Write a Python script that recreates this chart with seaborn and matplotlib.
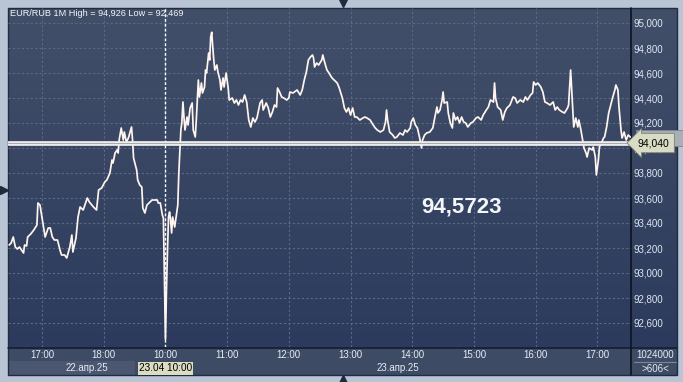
import matplotlib
matplotlib.use("Agg")
import matplotlib.pyplot as plt
import seaborn as sns
import numpy as np
from matplotlib.patches import Rectangle
from matplotlib.lines import Line2D
from matplotlib.colors import LinearSegmentedColormap

# ---------------- data (minutes on the trading timeline, 0 = 17:00 on 22.04) -------------
minutes_d1 = [-32, -30, -28, -26, -24, -22, -20, -18, -17, -15,
              -14, -11, -8, -5, -4, -2, 0, 3, 6, 8,
              10, 12, 15, 18, 19, 22, 24, 27, 29, 30,
              33, 35, 37, 40, 44, 46, 50, 53, 55, 58,
              61, 63, 66, 68, 69, 71, 73, 74, 75, 77,
              79, 80, 82, 84,
              87, 88, 89, 92, 93, 95, 97, 98, 100, 102,
              105, 107, 110, 112, 113, 115, 117, 118]
prices_d1 = [93.224, 93.240, 93.288, 93.208, 93.192, 93.208, 93.184, 93.160, 93.224, 93.216,
             93.288, 93.312, 93.344, 93.384, 93.560, 93.544, 93.440, 93.288, 93.360, 93.360,
             93.288, 93.264, 93.264, 93.168, 93.144, 93.144, 93.120, 93.208, 93.304, 93.168,
             93.280, 93.448, 93.528, 93.504, 93.600, 93.568, 93.528, 93.504, 93.664, 93.680,
             93.728, 93.744, 93.800, 93.904, 93.880, 93.960, 93.984, 93.960, 94.064, 94.160,
             94.064, 94.128, 94.048, 94.080,
             94.168, 94.064, 93.920, 93.824, 93.744, 93.704, 93.688, 93.520, 93.480, 93.544,
             93.568, 93.584, 93.584, 93.584, 93.560, 93.560, 93.464, 93.440]

minutes_d2 = [120, 121, 122, 123, 124, 125, 126, 127, 129, 131, 132, 133, 135,
              136, 137, 138, 139, 141, 142, 144, 146, 147, 149, 150, 151, 152, 153, 155, 156, 158,
              159, 160, 162, 163, 164, 165, 166, 167, 168, 170, 171, 173, 174, 176, 177, 179, 181,
              182, 185, 187, 189, 191, 193, 195, 197, 199, 201, 203, 205, 207, 209, 212, 214, 215,
              218, 220, 222, 224, 226, 228, 229, 231, 233, 235, 238, 240,
              241, 244, 248, 251, 253, 255, 257, 259, 261, 263, 264, 265, 267, 269, 272, 273, 275,
              277, 279, 282, 284, 287, 289, 292, 294, 296, 298, 300, 302, 304, 306, 309, 312, 314,
              316, 319, 322, 324, 326, 329, 332, 334, 335, 336, 338, 341, 343, 345, 348, 351, 353,
              355, 358,
              359, 361, 363, 365, 367, 369, 370, 372, 374, 377, 380, 382, 384, 385, 387, 389, 390,
              391, 394, 395, 397, 399, 400, 402, 404, 406, 408, 410, 412, 414, 417, 419, 422, 424,
              427, 429, 432, 434, 436, 439, 440, 441, 443, 446, 448, 450, 452, 455, 458, 460, 462,
              465,
              468, 470, 472, 475, 477, 478, 480, 482, 485, 487, 489, 491, 494, 497, 499, 501, 503,
              506, 508, 511, 512, 514, 516, 517, 519, 521, 522, 524, 526, 527, 529, 530, 532, 535,
              536, 538, 539, 541, 542, 544, 546, 547, 549, 551, 553, 555, 557, 558, 560, 561, 563,
              564, 566, 568, 570, 572]
prices_d2 = [92.469, 92.864, 93.184, 93.448, 93.488, 93.424, 93.320, 93.448, 93.368, 93.488, 93.544, 93.800, 94.144,
             94.208, 94.368, 94.248, 94.144, 94.248, 94.184, 94.320, 94.360, 94.144, 94.088, 94.224, 94.384, 94.544, 94.408, 94.520, 94.440, 94.488,
             94.624, 94.600, 94.760, 94.704, 94.888, 94.926, 94.808, 94.704, 94.624, 94.664, 94.608, 94.544, 94.464, 94.560, 94.488, 94.600, 94.480,
             94.384, 94.400, 94.360, 94.384, 94.344, 94.384, 94.368, 94.424, 94.368, 94.224, 94.168, 94.240, 94.208, 94.240, 94.360, 94.384, 94.304,
             94.360, 94.320, 94.248, 94.288, 94.344, 94.328, 94.480, 94.448, 94.408, 94.400, 94.384, 94.400,
             94.448, 94.440, 94.464, 94.424, 94.464, 94.544, 94.608, 94.704, 94.728, 94.744, 94.720, 94.648, 94.680, 94.664, 94.704, 94.744, 94.680,
             94.624, 94.600, 94.560, 94.544, 94.520, 94.480, 94.400, 94.320, 94.288, 94.320, 94.264, 94.320, 94.248, 94.248, 94.224, 94.240, 94.248,
             94.240, 94.224, 94.184, 94.160, 94.144, 94.128, 94.144, 94.208, 94.304, 94.224, 94.128, 94.104, 94.080, 94.088, 94.120, 94.104, 94.144,
             94.128, 94.160,
             94.208, 94.240, 94.184, 94.160, 94.088, 94.000, 94.064, 94.104, 94.120, 94.128, 94.160, 94.248, 94.328, 94.280, 94.304, 94.384, 94.448,
             94.360, 94.368, 94.280, 94.200, 94.160, 94.280, 94.224, 94.248, 94.200, 94.248, 94.208, 94.200, 94.168, 94.200, 94.208, 94.240, 94.248,
             94.224, 94.264, 94.304, 94.328, 94.384, 94.368, 94.520, 94.400, 94.328, 94.304, 94.224, 94.288, 94.320, 94.344, 94.408, 94.400, 94.360,
             94.384,
             94.368, 94.408, 94.384, 94.424, 94.440, 94.528, 94.504, 94.520, 94.488, 94.448, 94.368, 94.360, 94.344, 94.368, 94.304, 94.328, 94.304,
             94.288, 94.280, 94.320, 94.344, 94.624, 94.328, 94.168, 94.240, 94.168, 94.224, 94.144, 94.048, 94.000, 93.960, 93.928, 94.000, 93.984,
             94.008, 93.928, 93.784, 93.904, 94.008, 94.040, 94.080, 94.088, 94.168, 94.280, 94.344, 94.408, 94.464, 94.504, 94.464, 94.328, 94.144,
             94.080, 94.128, 94.064, 94.104, 94.088]

hour_ticks = [0, 60, 120, 180, 240, 300, 360, 420, 480, 540]
hour_labels = ["17:00", "18:00", "10:00", "11:00", "12:00", "13:00", "14:00", "15:00", "16:00", "17:00"]
day_labels = ["22.апр.25", "23.апр.25"]
session_open = 120          # 10:00 on 23.04 (cursor position)
cursor_label = "23.04 10:00"
price_ticks = [92.6, 92.8, 93.0, 93.2, 93.4, 93.6, 93.8, 94.0, 94.2, 94.4, 94.6, 94.8, 95.0]
last_price = 94.040
cursor_value = "94,5723"
high_value = 94.926
low_value = 92.469
volume_text = "1024000"
count_text = ">606<"
symbol = "EUR/RUB 1M"

# ---------------- styling ----------------
sns.set_style("dark")
plt.rcParams["font.family"] = ["Liberation Sans", "DejaVu Sans"]

W, H = 683, 382
def fx(px):
    return px / W
def fy(py):
    return 1 - py / H

def comma(v, nd=3):
    return f"{v:.{nd}f}".replace(".", ",")

fig = plt.figure(figsize=(6.83, 3.82), dpi=100)
fig.patch.set_facecolor("#b9c5d5")

# gradient panel background
bg = fig.add_axes([fx(8), fy(347), (677 - 8) / W, (347 - 8) / H], zorder=0)
cmap = LinearSegmentedColormap.from_list("bgc", ["#424f69", "#2c3b5d"])
bg.imshow(np.linspace(0, 1, 256).reshape(-1, 1), cmap=cmap, aspect="auto", extent=(0, 1, 0, 1))
bg.axis("off")

# bottom strips
fig.add_artist(Rectangle((fx(8), fy(375)), (677 - 8) / W, (375 - 347) / H,
                         transform=fig.transFigure, fc="#3e4b65", ec="none", zorder=0.5))
fig.add_artist(Rectangle((fx(8), fy(375)), (135 - 8) / W, (375 - 361) / H,
                         transform=fig.transFigure, fc="#4b5771", ec="none", zorder=0.6))
fig.add_artist(Rectangle((fx(8), fy(375)), (677 - 8) / W, (375 - 8) / H,
                         transform=fig.transFigure, fill=False, ec="#222c40", lw=1, zorder=0.7))
fig.add_artist(Line2D([fx(8), fx(677)], [fy(347.5)] * 2, transform=fig.transFigure,
                      color="#10182a", lw=1.1, zorder=0.8))
fig.add_artist(Line2D([fx(631), fx(631)], [fy(8), fy(375)], transform=fig.transFigure,
                      color="#0c1320", lw=1.2, zorder=0.8))
fig.add_artist(Line2D([fx(634), fx(676)], [fy(362), fy(362)], transform=fig.transFigure,
                      color="#7c879b", lw=0.8, zorder=0.8))
# hidden (grey) tag behind the last-price tag
fig.add_artist(Rectangle((fx(636), fy(146)), (683 - 636) / W, (146 - 130) / H,
                         transform=fig.transFigure, fc="#a9afb7", ec="#80868e", lw=0.6, zorder=1.5))

# main axes
ax = fig.add_axes([fx(8), fy(347), (631 - 8) / W, (347 - 8) / H], zorder=2)
ax.patch.set_alpha(0)
for s in ax.spines.values():
    s.set_visible(False)

m_all = minutes_d1 + minutes_d2
p_all = prices_d1 + prices_d2
sns.lineplot(x=m_all, y=p_all, ax=ax, color="#fff5ee", linewidth=1.25,
             estimator=None, sort=False, legend=False, zorder=3)

xmin, xmax = -33.1, 572.7
ax.set_xlim(xmin, xmax)
ax.set_ylim(92.408, 95.12)
ax.set_xlabel("")
ax.set_ylabel("")

ax.set_xticks(hour_ticks)
ax.set_xticklabels(hour_labels)
ax.set_yticks(price_ticks)
ax.set_yticklabels([comma(v) for v in price_ticks])
ax.yaxis.tick_right()
ax.tick_params(axis="y", length=0, pad=2, labelsize=7, labelcolor="#dfe6f2")
ax.tick_params(axis="x", length=0, pad=2.5, labelsize=7, labelcolor="#e6ebf5")
ax.grid(True, color="#5b6985", linestyle=(0, (2, 2)), linewidth=0.8)

ax.axvline(session_open, color="white", linestyle=(0, (2, 1.5)), linewidth=1, zorder=2.5)
ax.axhline(last_price, color="#ececec", linewidth=3.4, zorder=4)
ax.axhline(last_price, color="#a9a9a9", linewidth=0.7, zorder=5)

# last price tag
ax.annotate(comma(last_price), xy=(1, last_price), xycoords=ax.get_yaxis_transform(),
            xytext=(5, 0), textcoords="offset points", va="center", ha="left",
            fontsize=7.5, color="black",
            bbox=dict(boxstyle="larrow,pad=0.45", fc="#d9dcc4", ec="#7d7f78", lw=0.6),
            annotation_clip=False, zorder=10)

# day labels under the time axis
xt = ax.get_xaxis_transform()
ax.text((xmin + session_open) / 2, -0.063, day_labels[0], transform=xt, ha="center", va="center",
        fontsize=7, color="#e6ebf5", clip_on=False)
ax.text((session_open + xmax) / 2, -0.063, day_labels[1], transform=xt, ha="center", va="center",
        fontsize=7, color="#e6ebf5", clip_on=False)
ax.text(session_open, -0.063, cursor_label, transform=xt, ha="center", va="center",
        fontsize=7.2, color="black", clip_on=False, zorder=10,
        bbox=dict(boxstyle="square,pad=0.12", fc="#dcdcc2", ec="none"))

# texts
fig.text(fx(10), fy(13.5), f"{symbol} High = {comma(high_value)} Low = {comma(low_value)}",
         ha="left", va="center", fontsize=6.6, color="#f2f4f8", zorder=5)
fig.text(fx(462), fy(207), cursor_value, ha="center", va="center", fontsize=16,
         fontweight="bold", color="#f4f6fa", zorder=5)
fig.text(fx(655), fy(355.5), volume_text, ha="center", va="center", fontsize=7, color="#e6ebf5", zorder=5)
fig.text(fx(655), fy(369), count_text, ha="center", va="center", fontsize=7, color="#e6ebf5", zorder=5)

# small navigation arrows
fig.add_artist(Line2D([fx(343)], [fy(3)], transform=fig.transFigure, marker="v", ms=5.5,
                      color="#1f2a3f", lw=0))
fig.add_artist(Line2D([fx(343)], [fy(379)], transform=fig.transFigure, marker="^", ms=5.5,
                      color="#1f2a3f", lw=0))
fig.add_artist(Line2D([fx(3.5)], [fy(190)], transform=fig.transFigure, marker=">", ms=5.5,
                      color="#1f2a3f", lw=0))

fig.savefig("out.png", dpi=100, facecolor=fig.get_facecolor())
